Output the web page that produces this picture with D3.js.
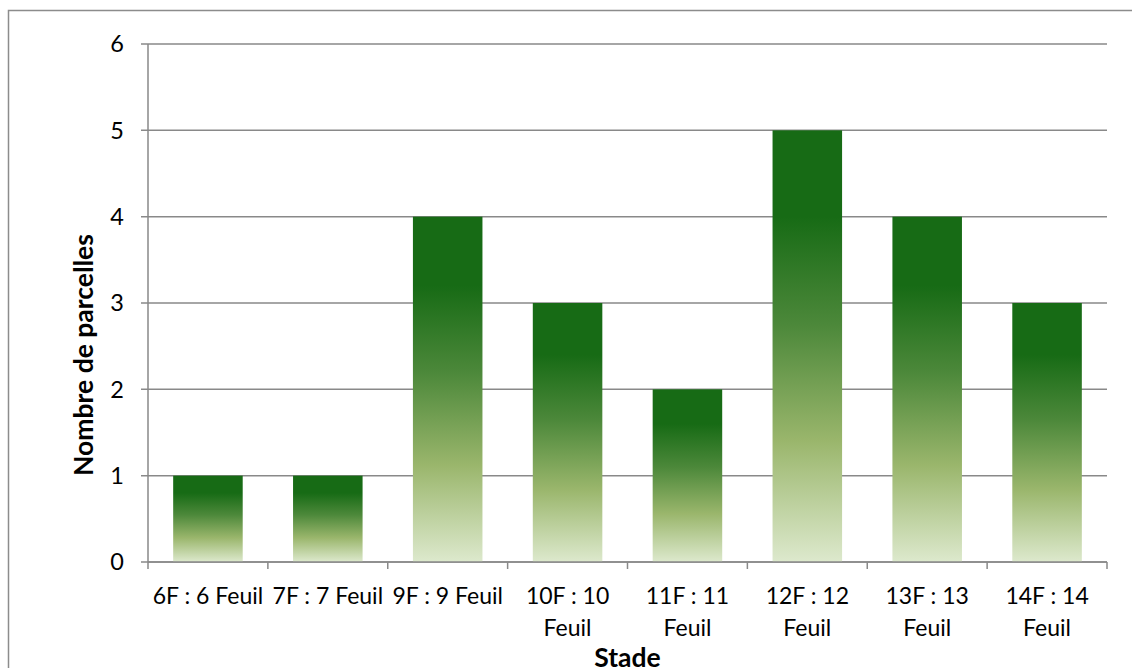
<!DOCTYPE html>
<html>
<head>
<meta charset="utf-8">
<script src="https://cdn.jsdelivr.net/npm/d3@7"></script>
<style>
  body { margin: 0; background: #fff; }
  text { font-family: Lato, "Open Sans", sans-serif; fill: #000; }
</style>
</head>
<body>
<div class="chart"></div>
<script>
var stades = ["6F : 6 Feuil", "7F : 7 Feuil", "9F : 9 Feuil", "10F : 10 Feuil",
    "11F : 11 Feuil", "12F : 12 Feuil", "13F : 13 Feuil", "14F : 14 Feuil"];
var parcelles = [1, 1, 4, 3, 2, 5, 4, 3];
var yTicks = [0, 1, 2, 3, 4, 5, 6];

var margins = { top: 44, left: 148, right: 25, bottom: 106 };
var W = 1132, H = 668;
var width = W - margins.left - margins.right;
var height = H - margins.top - margins.bottom;

var svgRoot = d3.select('.chart')
    .append('svg')
    .attr('width', W)
    .attr('height', H);

// outer chart frame
svgRoot.append('rect')
    .attr('x', 8.5).attr('y', 10.5)
    .attr('width', W + 20).attr('height', H + 20)
    .attr('fill', 'none')
    .attr('stroke', '#8c8c8c')
    .attr('stroke-width', 1.5);

var defs = svgRoot.append('defs');
var grad = defs.append('linearGradient')
    .attr('id', 'barGrad')
    .attr('x1', 0).attr('y1', 0).attr('x2', 0).attr('y2', 1);
[[0, '#176b15'], [0.2, '#176b15'], [0.45, '#4c883a'], [0.72, '#9ab66c'], [1, '#dde9cd']]
    .forEach(function (s) {
        grad.append('stop').attr('offset', s[0]).attr('stop-color', s[1]);
    });

var svg = svgRoot.append('g')
    .attr('transform', 'translate(' + margins.left + ',' + margins.top + ')');

var xScale = d3.scaleBand()
    .domain(stades)
    .range([0, width])
    .paddingInner(0.42)
    .paddingOuter(0.21);

var yScale = d3.scaleLinear()
    .domain([0, 6])
    .range([height, 0]);

// gridlines
svg.append('g')
    .selectAll('line')
    .data(yTicks)
    .enter()
    .append('line')
    .attr('x1', -7)
    .attr('x2', width)
    .attr('y1', function (d) { return yScale(d); })
    .attr('y2', function (d) { return yScale(d); })
    .attr('stroke', '#898989')
    .attr('stroke-width', 1.5);

// y axis line
svg.append('line')
    .attr('x1', 0).attr('x2', 0)
    .attr('y1', 0).attr('y2', height)
    .attr('stroke', '#898989')
    .attr('stroke-width', 1.5);

// bars
svg.append('g')
    .selectAll('rect')
    .data(parcelles)
    .enter()
    .append('rect')
    .attr('x', function (d, i) { return xScale(stades[i]); })
    .attr('y', function (d) { return yScale(d); })
    .attr('width', xScale.bandwidth())
    .attr('height', function (d) { return height - yScale(d); })
    .attr('fill', 'url(#barGrad)');

// y tick labels
svg.append('g')
    .selectAll('text')
    .data(yTicks)
    .enter()
    .append('text')
    .attr('x', -24)
    .attr('y', function (d) { return yScale(d); })
    .attr('dy', '0.36em')
    .attr('text-anchor', 'end')
    .style('font-size', '23.5px')
    .text(function (d) { return d; });

// x axis baseline + ticks at category boundaries
svg.append('line')
    .attr('x1', 0).attr('x2', width)
    .attr('y1', height).attr('y2', height)
    .attr('stroke', '#898989')
    .attr('stroke-width', 1.5);

var step = xScale.step();
svg.append('g')
    .selectAll('line')
    .data(d3.range(stades.length + 1))
    .enter()
    .append('line')
    .attr('x1', function (i) { return i * step; })
    .attr('x2', function (i) { return i * step; })
    .attr('y1', height)
    .attr('y2', height + 7)
    .attr('stroke', '#898989')
    .attr('stroke-width', 1.5);

// x labels (first three on one line, others wrapped)
var labels = svg.append('g')
    .selectAll('text')
    .data(stades)
    .enter()
    .append('text')
    .attr('text-anchor', 'middle')
    .style('font-size', '23px')
    .attr('transform', function (d) {
        return 'translate(' + (xScale(d) + xScale.bandwidth() / 2) + ',' + (height + 42) + ')';
    });

labels.each(function (d, i) {
    var t = d3.select(this);
    if (i < 3) {
        t.append('tspan').attr('x', 0).attr('y', 0).text(d);
    } else {
        var cut = d.lastIndexOf(' ');
        t.append('tspan').attr('x', 0).attr('y', 0).text(d.slice(0, cut));
        t.append('tspan').attr('x', 0).attr('y', 32).text(d.slice(cut + 1));
    }
});

// axis titles
svg.append('text')
    .attr('x', width / 2)
    .attr('y', height + 105)
    .attr('text-anchor', 'middle')
    .style('font-size', '26.5px')
    .style('font-weight', 'bold')
    .text('Stade');

svg.append('text')
    .attr('transform', 'translate(' + (-55) + ',' + 311 + ') rotate(-90)')
    .attr('text-anchor', 'middle')
    .style('font-size', '26.5px')
    .style('font-weight', 'bold')
    .text('Nombre de parcelles');
</script>
</body>
</html>
